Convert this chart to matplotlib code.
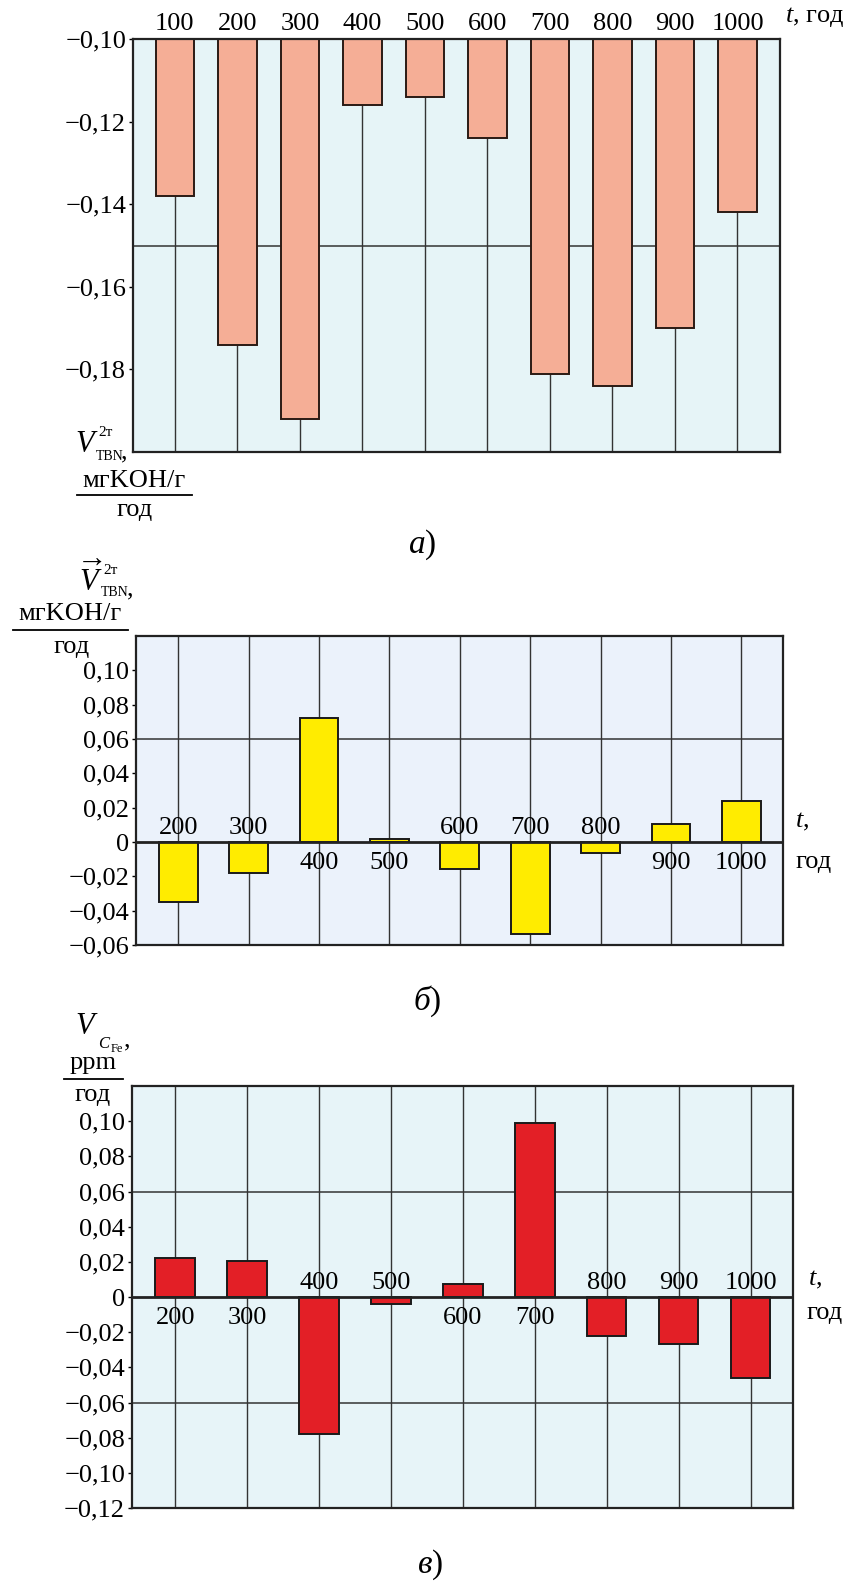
import numpy as np
import matplotlib
matplotlib.use("Agg")
import matplotlib.pyplot as plt
from matplotlib.lines import Line2D

plt.rcParams['font.family'] = ['Liberation Serif', 'DejaVu Serif']
plt.rcParams['mathtext.fontset'] = 'custom'
plt.rcParams['mathtext.rm'] = 'Liberation Serif'
plt.rcParams['mathtext.it'] = 'Liberation Serif:italic'

# данные
years_a = ['100', '200', '300', '400', '500', '600', '700', '800', '900', '1000']
tbn_a = [-0.138, -0.174, -0.192, -0.116, -0.114, -0.124, -0.181, -0.184, -0.170, -0.142]

years_b = ['200', '300', '400', '500', '600', '700', '800', '900', '1000']
tbn_b = [-0.035, -0.018, 0.0725, 0.0016, -0.0155, -0.0535, -0.0065, 0.0105, 0.0237]

years_c = ['200', '300', '400', '500', '600', '700', '800', '900', '1000']
fe_c = [0.0219, 0.0204, -0.078, -0.004, 0.0072, 0.0988, -0.0219, -0.0266, -0.0459]

W, H = 844, 1582
FS = 19


def box(l, t, r, b):
    return [l / W, 1 - b / H, (r - l) / W, (b - t) / H]


def px(x, y):
    return x / W, 1 - y / H


def fmt(v):
    if abs(v) < 1e-9:
        return '0'
    s = f'{abs(v):.2f}'.replace('.', ',')
    return ('\u2212' + s) if v < 0 else s


def style_axes(ax, bg, yticks, ylim, xlim):
    ax.set_facecolor(bg)
    ax.set_ylim(*ylim)
    ax.set_xlim(*xlim)
    ax.set_yticks(yticks)
    ax.set_yticklabels([fmt(v) for v in yticks], fontsize=FS)
    ax.tick_params(axis='y', length=3, width=1, pad=2, direction='out')
    for sp in ax.spines.values():
        sp.set_linewidth(1.6)
        sp.set_color('#222222')


fig = plt.figure(figsize=(W / 100, H / 100), dpi=100)

# ---------------- а) ----------------
ax = fig.add_axes(box(133, 39, 780, 452))
x = np.arange(len(years_a))
style_axes(ax, '#e6f4f7', [-0.10, -0.12, -0.14, -0.16, -0.18], (-0.20, -0.10), (-0.67, len(x) - 1 + 0.68))
for xi in x:
    ax.axvline(xi, color='#333333', lw=1, zorder=1)
ax.axhline(-0.15, color='#333333', lw=1.1, zorder=1)
ax.bar(x, np.array(tbn_a) + 0.10, bottom=-0.10, width=0.62, color='#f5ae96',
       edgecolor='#2a1a14', linewidth=1.4, zorder=2)
ax.set_xticks(x)
ax.set_xticklabels(years_a, fontsize=FS)
ax.xaxis.tick_top()
ax.tick_params(axis='x', length=0, pad=3)
fig.text(*px(785, 17), '$t$, год', fontsize=FS, ha='left', va='center')

fig.text(*px(87, 445), '$V$', fontsize=22, ha='center', va='center')
fig.text(*px(98, 433), '2т', fontsize=11, ha='left', va='center')
fig.text(*px(96, 456), 'TBN', fontsize=10, ha='left', va='center')
fig.text(*px(124, 452), ',', fontsize=FS, ha='center', va='center')
fig.text(*px(134, 481), 'мгKOH/г', fontsize=FS, ha='center', va='center')
fig.add_artist(Line2D([77 / W, 192 / W], [1 - 495 / H, 1 - 495 / H], color='black', lw=1.3))
fig.text(*px(135, 510), 'год', fontsize=FS, ha='center', va='center')
fig.text(*px(422, 545), '$а$)', fontsize=24, ha='center', va='center')


def signed_panel(rect, years, vals, color, bg, yticks, ylim, tpos, gpos):
    ax = fig.add_axes(rect)
    x = np.arange(len(years))
    style_axes(ax, bg, yticks, ylim, (-0.6, len(x) - 1 + 0.59))
    ax.set_xticks([])
    for xi in x:
        ax.axvline(xi, color='#333333', lw=1, zorder=1)
    for yv in yticks:
        if abs(yv) > 1e-9 and abs(round(yv / 0.06) * 0.06 - yv) < 1e-9 and ylim[0] < yv:
            ax.axhline(yv, color='#333333', lw=1.1, zorder=1)
    ax.bar(x, vals, width=0.55, color=color, edgecolor='#1a1a1a', linewidth=1.4, zorder=2)
    ax.axhline(0, color='#222222', lw=2, zorder=3)
    for xi, lab, v in zip(x, years, vals):
        if v < 0:
            ax.annotate(lab, (xi, 0), xytext=(0, 6), textcoords='offset points',
                        ha='center', va='baseline', fontsize=FS)
        else:
            ax.annotate(lab, (xi, 0), xytext=(0, -7), textcoords='offset points',
                        ha='center', va='top', fontsize=FS)
    fig.text(*px(*tpos), '$t$,', fontsize=FS, ha='left', va='center')
    fig.text(*px(*gpos), 'год', fontsize=FS, ha='left', va='center')
    return ax


# ---------------- б) ----------------
signed_panel(box(136, 636, 783, 945), years_b, tbn_b, '#ffec00', '#ebf2fb',
             [-0.06, -0.04, -0.02, 0.0, 0.02, 0.04, 0.06, 0.08, 0.10], (-0.06, 0.12),
             (795, 822), (795, 862))
fig.text(*px(91, 580), r'$\overrightarrow{V}$', fontsize=22, ha='center', va='center')
fig.text(*px(103, 571), '2т', fontsize=11, ha='left', va='center')
fig.text(*px(101, 592), 'TBN', fontsize=10, ha='left', va='center')
fig.text(*px(130, 589), ',', fontsize=FS, ha='center', va='center')
fig.text(*px(70, 614), 'мгKOH/г', fontsize=FS, ha='center', va='center')
fig.add_artist(Line2D([13 / W, 128 / W], [1 - 630 / H, 1 - 630 / H], color='black', lw=1.3))
fig.text(*px(72, 647), 'год', fontsize=FS, ha='center', va='center')
fig.text(*px(427, 1001), '$б$)', fontsize=24, ha='center', va='center')

# ---------------- в) ----------------
signed_panel(box(132, 1086, 793, 1508), years_c, fe_c, '#e31f26', '#e7f4f8',
             [-0.12, -0.10, -0.08, -0.06, -0.04, -0.02, 0.0, 0.02, 0.04, 0.06, 0.08, 0.10],
             (-0.12, 0.12), (808, 1280), (806, 1313))
fig.text(*px(87, 1027), '$V$', fontsize=22, ha='center', va='center')
fig.text(*px(98, 1044), '$C$', fontsize=12, ha='left', va='center')
fig.text(*px(111, 1049), 'Fe', fontsize=9, ha='left', va='center')
fig.text(*px(127, 1040), ',', fontsize=FS, ha='center', va='center')
fig.text(*px(93, 1063), 'ppm', fontsize=FS, ha='center', va='center')
fig.add_artist(Line2D([64 / W, 123 / W], [1 - 1079 / H, 1 - 1079 / H], color='black', lw=1.3))
fig.text(*px(93, 1095), 'год', fontsize=FS, ha='center', va='center')
fig.text(*px(430, 1565), '$в$)', fontsize=24, ha='center', va='center')

fig.savefig('out.png', dpi=100, facecolor='white')
